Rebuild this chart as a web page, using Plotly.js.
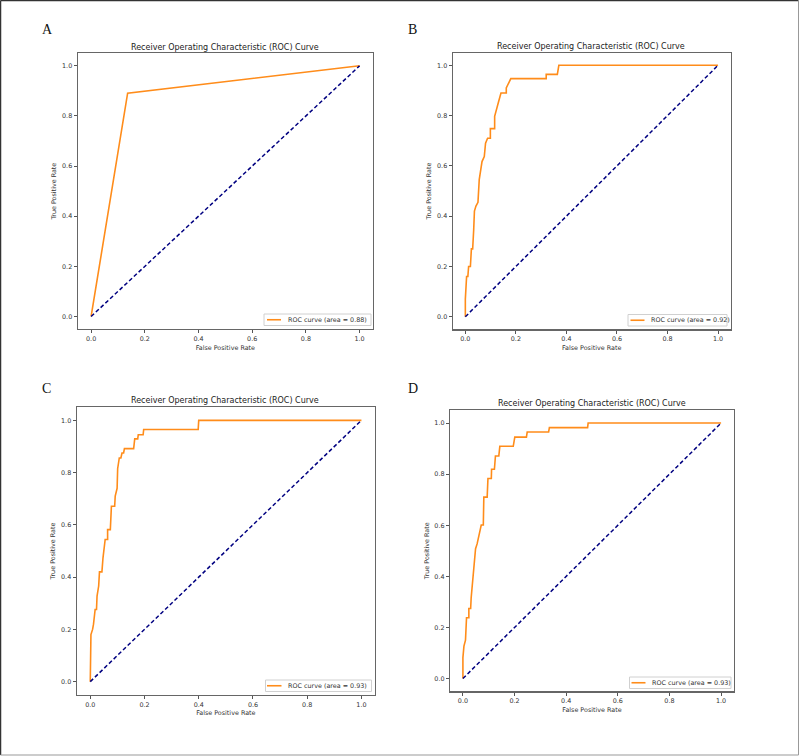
<!DOCTYPE html>
<html>
<head>
<meta charset="utf-8">
<script src="https://cdn.plot.ly/plotly-3.0.1.min.js"></script>
<style>html,body{margin:0;padding:0;background:#fff;}#chart{width:800px;height:756px;}</style>
</head>
<body>
<div id="chart"></div>
<script>
// ---- data ----
const panelLabels = ["A", "B", "C", "D"];
const chartTitle = "Receiver Operating Characteristic (ROC) Curve";
const xLabel = "False Positive Rate";
const yLabel = "True Positive Rate";
const aucValues = ["0.88", "0.92", "0.93", "0.93"];
const chanceX = [0, 1];
const chanceY = [0, 1];

const fprA = [0, 0.136, 1];
const tprA = [0, 0.891, 1];

const fprB = [0, 0, 0.005, 0.01, 0.013, 0.02, 0.024, 0.029, 0.033, 0.036, 0.042, 0.05, 0.055, 0.06, 0.066, 0.075, 0.08, 0.088, 0.099, 0.099, 0.116, 0.116, 0.125, 0.132, 0.141, 0.162, 0.162, 0.171, 0.18, 0.32, 0.32, 0.364, 0.37, 1];
const tprB = [0, 0.07, 0.16, 0.16, 0.2, 0.2, 0.27, 0.27, 0.345, 0.42, 0.44, 0.455, 0.545, 0.58, 0.617, 0.637, 0.69, 0.71, 0.71, 0.748, 0.748, 0.797, 0.837, 0.857, 0.89, 0.89, 0.91, 0.93, 0.947, 0.947, 0.964, 0.964, 1.0, 1];

const fprC = [0, 0, 0.0025, 0.0086, 0.012, 0.018, 0.023, 0.025, 0.031, 0.034, 0.043, 0.047, 0.052, 0.055, 0.064, 0.064, 0.074, 0.078, 0.09, 0.092, 0.099, 0.101, 0.107, 0.113, 0.117, 0.123, 0.126, 0.16, 0.164, 0.175, 0.177, 0.195, 0.197, 0.398, 0.4, 1];
const tprC = [0, 0.104, 0.18, 0.2, 0.22, 0.276, 0.276, 0.327, 0.366, 0.42, 0.42, 0.474, 0.512, 0.544, 0.544, 0.582, 0.582, 0.671, 0.671, 0.71, 0.74, 0.815, 0.856, 0.856, 0.875, 0.875, 0.892, 0.892, 0.929, 0.929, 0.945, 0.945, 0.965, 0.965, 1.0, 1];

const fprD = [0, 0, 0.004, 0.01, 0.014, 0.023, 0.023, 0.03, 0.032, 0.036, 0.045, 0.049, 0.055, 0.059, 0.066, 0.071, 0.079, 0.081, 0.094, 0.097, 0.11, 0.111, 0.122, 0.126, 0.139, 0.143, 0.195, 0.197, 0.201, 0.246, 0.249, 0.332, 0.335, 0.483, 0.485, 1];
const tprD = [0, 0.082, 0.127, 0.15, 0.238, 0.238, 0.274, 0.274, 0.316, 0.365, 0.445, 0.508, 0.527, 0.545, 0.573, 0.601, 0.601, 0.71, 0.71, 0.783, 0.783, 0.819, 0.819, 0.871, 0.871, 0.909, 0.909, 0.929, 0.945, 0.945, 0.965, 0.965, 0.982, 0.982, 1.0, 1];

const fprs = [fprA, fprB, fprC, fprD];
const tprs = [tprA, tprB, tprC, tprD];

// ---- layout geometry (pixels in the 800x756 page) ----
const W = 800, H = 756;
const px = v => v / W;
const py = v => 1 - v / H;
const frames = [
  {l: 77.7, r: 373, t: 53.3, b: 329},
  {l: 452.7, r: 730.7, t: 52.7, b: 329.3},
  {l: 76.7, r: 375, t: 407.3, b: 694.7},
  {l: 450, r: 734, t: 410.3, b: 691.3}
];
const titlePos = [[225, 47], [591.3, 46.7], [225.3, 400.7], [591.8, 403.3]];
const letterPos = [[47, 30], [412.5, 30], [46.5, 388], [412.5, 388]];
// legend box: left, right, top, bottom, sample line start, sample line end, text start
const legendBoxes = [
  {l: 264, r: 371, t: 314, b: 325.5, s0: 267, s1: 281, tx: 285.5},
  {l: 628, r: 727, t: 314.5, b: 326, s0: 630.5, s1: 644.5, tx: 648.5},
  {l: 265.5, r: 371.5, t: 680, b: 691.5, s0: 267, s1: 281.5, tx: 285.5},
  {l: 629.5, r: 731, t: 677, b: 688.5, s0: 631.5, s1: 645.5, tx: 649.5}
];

const ORANGE = "#ff8c1a";
const NAVY = "#000080";
const FONT = "DejaVu Sans, sans-serif";

const traces = [];
const layout = {
  width: W, height: H,
  margin: {l: 0, r: 0, t: 0, b: 0},
  paper_bgcolor: "#fff", plot_bgcolor: "#fff",
  font: {family: FONT, size: 6.4, color: "#333"},
  showlegend: false,
  annotations: [],
  shapes: [
    {type: "line", xref: "paper", yref: "paper", x0: px(0.5), x1: px(798.5), y0: py(0.5), y1: py(0.5), line: {color: "#333", width: 1.5}},
    {type: "line", xref: "paper", yref: "paper", x0: px(0.5), x1: px(0.5), y0: py(0.5), y1: py(755), line: {color: "#333", width: 1.5}},
    {type: "line", xref: "paper", yref: "paper", x0: px(798.5), x1: px(798.5), y0: py(0.5), y1: py(755), line: {color: "#999", width: 1}},
    {type: "line", xref: "paper", yref: "paper", x0: px(0.5), x1: px(798.5), y0: py(755), y1: py(755), line: {color: "#999", width: 1}}
  ]
};

for (let i = 0; i < 4; i++) {
  const n = i === 0 ? "" : String(i + 1);
  const f = frames[i];
  const rocName = "ROC curve (area = " + aucValues[i] + ")";
  traces.push({
    x: fprs[i], y: tprs[i], type: "scatter", mode: "lines",
    xaxis: "x" + n, yaxis: "y" + n,
    name: rocName,
    line: {color: ORANGE, width: 1.6},
    showlegend: false, hoverinfo: "skip"
  });
  traces.push({
    x: chanceX, y: chanceY, type: "scatter", mode: "lines",
    xaxis: "x" + n, yaxis: "y" + n,
    name: "chance",
    line: {color: NAVY, width: 1.5, dash: "4px,2.5px"},
    showlegend: false, hoverinfo: "skip"
  });
  const axCommon = {
    range: [-0.05, 1.05], dtick: 0.2, tick0: 0, tickformat: ".1f",
    showgrid: false, zeroline: false,
    showline: true, mirror: true, linecolor: "#666", linewidth: 1.2,
    ticks: "outside", ticklen: 3, tickwidth: 1, tickcolor: "#555",
    tickfont: {family: FONT, size: 6.4, color: "#333"},
    fixedrange: true
  };
  layout["xaxis" + n] = Object.assign({}, axCommon, {
    domain: [px(f.l), px(f.r)], anchor: "y" + n,
    title: {text: xLabel, font: {family: FONT, size: 6.4, color: "#333"}, standoff: 3}
  });
  layout["yaxis" + n] = Object.assign({}, axCommon, {
    domain: [py(f.b), py(f.t)], anchor: "x" + n,
    title: {text: yLabel, font: {family: FONT, size: 6.4, color: "#333"}, standoff: 4}
  });
  // legend (box, sample line, label)
  const lb = legendBoxes[i];
  const cy = (lb.t + lb.b) / 2;
  layout.shapes.push({type: "rect", xref: "paper", yref: "paper", x0: px(lb.l), x1: px(lb.r), y0: py(lb.b), y1: py(lb.t), line: {color: "#d0d0d0", width: 1}, fillcolor: "rgba(255,255,255,0.9)"});
  layout.shapes.push({type: "line", xref: "paper", yref: "paper", x0: px(lb.s0), x1: px(lb.s1), y0: py(cy), y1: py(cy), line: {color: ORANGE, width: 1.6}});
  layout.annotations.push({
    text: rocName, xref: "paper", yref: "paper",
    x: px(lb.tx), y: py(cy), xanchor: "left", yanchor: "middle", showarrow: false,
    font: {family: FONT, size: 6.4, color: "#333"}
  });
  layout.annotations.push({
    text: chartTitle, xref: "paper", yref: "paper",
    x: px(titlePos[i][0]), y: py(titlePos[i][1]),
    xanchor: "center", yanchor: "middle", showarrow: false,
    font: {family: FONT, size: 8, color: "#222"}
  });
  layout.annotations.push({
    text: panelLabels[i], xref: "paper", yref: "paper",
    x: px(letterPos[i][0]), y: py(letterPos[i][1]),
    xanchor: "center", yanchor: "middle", showarrow: false,
    font: {family: "Liberation Serif, serif", size: 14, color: "#111"}
  });
}

Plotly.newPlot("chart", traces, layout, {displayModeBar: false, staticPlot: true});
</script>
</body>
</html>
